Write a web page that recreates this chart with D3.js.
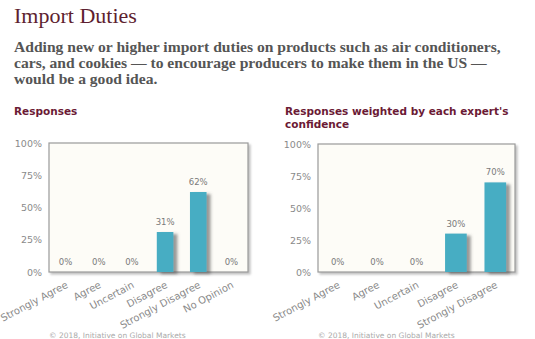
<!DOCTYPE html>
<html>
<head>
<meta charset="utf-8">
<script src="https://cdn.jsdelivr.net/npm/d3@7"></script>
<style>
  html, body { margin: 0; padding: 0; background: #ffffff; }
  svg { display: block; }
</style>
</head>
<body>
<svg id="chart" width="535" height="339"></svg>
<script>
// Survey question and the two response panels
const title = "Import Duties";
const questionLines = [
  "Adding new or higher import duties on products such as air conditioners,",
  "cars, and cookies \u2014 to encourage producers to make them in the US \u2014",
  "would be a good idea."
];

const responseCategories = ["Strongly Agree", "Agree", "Uncertain", "Disagree", "Strongly Disagree", "No Opinion"];
const responseValues = [0, 0, 0, 31, 62, 0];

const weightedCategories = ["Strongly Agree", "Agree", "Uncertain", "Disagree", "Strongly Disagree"];
const weightedValues = [0, 0, 0, 30, 70];

const yTicks = [0, 25, 50, 75, 100];
const panelTitles = [["Responses"], ["Responses weighted by each expert's", "confidence"]];
const footer = "\u00a9 2018, Initiative on Global Markets";

const svg = d3.select("#chart");
const defs = svg.append("defs");

const barShadow = defs.append("filter").attr("id", "barShadow")
  .attr("x", "-20%").attr("y", "-20%").attr("width", "160%").attr("height", "140%");
barShadow.append("feDropShadow")
  .attr("dx", 4).attr("dy", 2).attr("stdDeviation", 1.5)
  .attr("flood-color", "#555").attr("flood-opacity", 0.6);

const frameShadow = defs.append("filter").attr("id", "frameShadow")
  .attr("x", "-5%").attr("y", "-5%").attr("width", "115%").attr("height", "115%");
frameShadow.append("feDropShadow")
  .attr("dx", 2).attr("dy", 2).attr("stdDeviation", 1.2)
  .attr("flood-color", "#777").attr("flood-opacity", 0.45);

// Heading
svg.append("text")
  .attr("x", 14).attr("y", 23)
  .attr("font-family", "'Liberation Serif', serif")
  .attr("font-size", 22)
  .attr("fill", "#5e1f30")
  .text(title);

const q = svg.append("text")
  .attr("font-family", "'Liberation Serif', serif")
  .attr("font-weight", "bold")
  .attr("font-size", 15.6)
  .attr("fill", "#555");
questionLines.forEach((line, i) => {
  q.append("tspan").attr("x", 14).attr("y", 52 + i * 16).text(line);
});

function drawPanel(cfg) {
  const g = svg.append("g");
  const { left, right, top, bottom } = cfg;

  // panel heading
  const t = g.append("text")
    .attr("font-family", "'DejaVu Sans', Verdana, sans-serif")
    .attr("font-weight", "bold")
    .attr("font-size", 10.5)
    .attr("fill", "#6b1a35");
  cfg.heading.forEach((line, i) => {
    t.append("tspan").attr("x", cfg.headingX).attr("y", 115 + i * 13).text(line);
  });

  const x = d3.scaleBand().domain(cfg.categories).range([left, right]).paddingInner(0).paddingOuter(0);
  const y = d3.scaleLinear().domain([0, 100]).range([bottom, top]);

  // plot frame
  g.append("rect")
    .attr("x", left).attr("y", top)
    .attr("width", right - left).attr("height", bottom - top)
    .attr("fill", "#fdfcf7").attr("stroke", "#9a9a9a").attr("stroke-width", 1.2)
    .attr("filter", "url(#frameShadow)");

  // y axis labels
  const yAxis = d3.axisLeft(y).tickValues(yTicks).tickFormat(d => d + "%").tickSize(0).tickPadding(0);
  const ya = g.append("g").attr("transform", `translate(${left - 7},0)`).call(yAxis);
  ya.select(".domain").remove();
  ya.selectAll("text")
    .attr("font-family", "'DejaVu Sans', Verdana, sans-serif")
    .attr("font-size", 9.5).attr("fill", "#8a8a8a");

  // bars
  const bw = x.bandwidth() * cfg.barFrac;
  const data = cfg.categories.map((c, i) => ({ c, v: cfg.values[i] }));
  g.selectAll("rect.bar").data(data.filter(d => d.v > 0)).join("rect")
    .attr("class", "bar")
    .attr("x", d => x(d.c) + (x.bandwidth() - bw) / 2)
    .attr("y", d => y(d.v))
    .attr("width", bw)
    .attr("height", d => y(0) - y(d.v))
    .attr("fill", "#47adc3")
    .attr("filter", "url(#barShadow)");

  // value labels
  g.selectAll("text.val").data(data).join("text")
    .attr("class", "val")
    .attr("x", d => x(d.c) + x.bandwidth() / 2)
    .attr("y", d => y(d.v) - 7)
    .attr("text-anchor", "middle")
    .attr("font-family", "'DejaVu Sans', Verdana, sans-serif")
    .attr("font-size", 8.5).attr("fill", "#7a7a7a")
    .text(d => d.v + "%");

  // rotated category labels
  const xAxis = d3.axisBottom(x).tickSize(0).tickPadding(0);
  const xa = g.append("g").attr("transform", `translate(0,${bottom})`).call(xAxis);
  xa.select(".domain").remove();
  xa.selectAll("text")
    .attr("font-family", "'DejaVu Sans', Verdana, sans-serif")
    .attr("font-size", 10).attr("fill", "#8a8a8a")
    .attr("text-anchor", "end")
    .attr("dy", 0).attr("y", 0)
    .attr("transform", "translate(3,15) rotate(-28)");

  // footer
  g.append("text")
    .attr("x", left).attr("y", 338)
    .attr("font-family", "'DejaVu Sans', Verdana, sans-serif")
    .attr("font-size", 7.5).attr("fill", "#aaa")
    .text(footer);
}

drawPanel({
  categories: responseCategories, values: responseValues, heading: panelTitles[0], headingX: 14,
  left: 49, right: 248, top: 143, bottom: 272, barFrac: 0.5
});
drawPanel({
  categories: weightedCategories, values: weightedValues, heading: panelTitles[1], headingX: 285,
  left: 318, right: 515, top: 144, bottom: 272, barFrac: 0.55
});
</script>
</body>
</html>
